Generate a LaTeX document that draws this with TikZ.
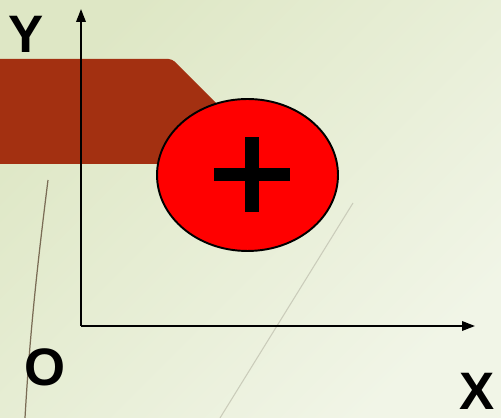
\documentclass[tikz,border=0pt]{standalone}
\usepackage{fontspec}
\setmainfont{Liberation Sans}
\usetikzlibrary{arrows.meta,shapes.geometric}
\definecolor{bgtop}{HTML}{DEE7C5}
\definecolor{bgbot}{HTML}{F1F5E7}
\definecolor{rust}{HTML}{A33011}
\definecolor{plusred}{HTML}{FF0000}
\definecolor{stem}{HTML}{7A6C55}
\definecolor{grass}{HTML}{CACCBA}
\tikzset{lbl/.style={font=\fontsize{30}{30}\selectfont\bfseries,inner sep=0pt},
 axis/.style={-{Triangle[length=2.6mm,width=1.9mm]},line width=1.1pt,draw=black},
 charge/.style={ellipse,draw=black,line width=1.1pt,fill=plusred,inner sep=0pt,minimum width=3.62cm,minimum height=3.04cm}}

\begin{document}
\begin{tikzpicture}[x=0.02cm,y=-0.02cm]
\useasboundingbox (0,0) rectangle (501,418);
\shade[top color=bgtop,bottom color=bgbot,shading angle=45] (0,0) rectangle (501,418);
% faint stems
\draw[stem,line width=0.7pt] (48,180) .. controls (38,260) and (30,330) .. (25,418);
\draw[grass,line width=0.6pt] (353,203) -- (220,418);
% plate
\fill[rust] (-5,164) -- (-5,59) [rounded corners=2pt]-- (172,59) -- (277,164) -- cycle;
% axes
\coordinate (o) at (81,326);\coordinate (ytip) at (81,9);\coordinate (xtip) at (475,326);
\draw[axis](o)--(ytip);\draw[axis](o)--(xtip);
\node[lbl](ly) at (26,34){Y};\node[lbl](lo) at (44.5,367.5){O};\node[lbl](lx) at (477,391){X};
% charge
\node[charge](c) at (247.5,175){};
\begin{scope}[shift={(c.center)}]
\fill[black] (-2.5,-38) rectangle (11.5,37);\fill[black] (-33.5,-7) rectangle (42.5,6);
\end{scope}
\end{tikzpicture}
\end{document}
